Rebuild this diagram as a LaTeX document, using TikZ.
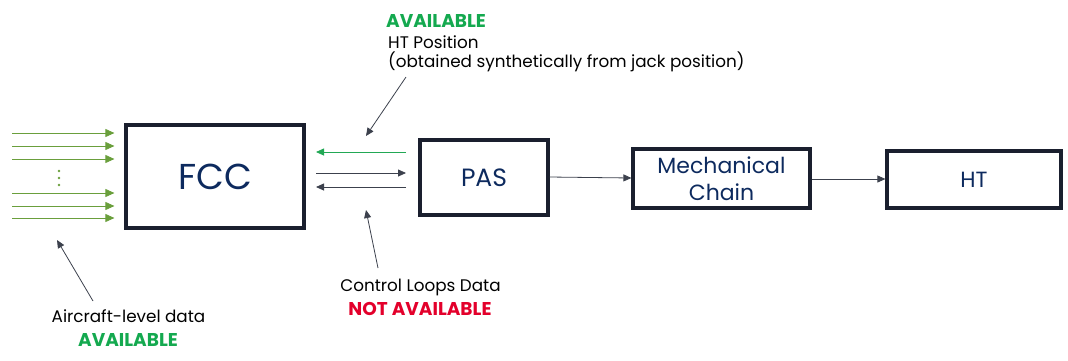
\documentclass[tikz,border=0pt]{standalone}
\usepackage{fontspec}
\setmainfont{Poppins}
\usetikzlibrary{arrows.meta}
\definecolor{navy}{HTML}{0D2A5E}
\definecolor{boxline}{HTML}{1A1F2E}
\definecolor{olivegreen}{HTML}{6A9F3C}
\definecolor{okgreen}{HTML}{14A94F}
\definecolor{arrgreen}{HTML}{22A855}
\definecolor{notred}{HTML}{E3002B}
\tikzset{
  blk/.style={draw=boxline, line width=3.2pt, text=navy, inner sep=0pt, align=center},
  conn/.style={line width=0.8pt, draw=boxline!85, -{Triangle[length=8pt,width=7pt]}},
  inarr/.style={line width=0.8pt, draw=olivegreen, -{Triangle[length=9pt,width=8pt]}, fill=olivegreen},
  note/.style={font=\fontsize{16.8}{20}\selectfont, text=black, inner sep=0pt},
  lbl/.style={font=\fontsize{18.5}{20}\selectfont\bfseries, inner sep=0pt},
}
\begin{document}
\begin{tikzpicture}[x=1pt,y=-1pt]
\useasboundingbox (0,0) rectangle (1068,360);
% boxes
\node[blk, minimum width=178pt, minimum height=103pt, font=\fontsize{36}{40}\selectfont] (fcc) at (215,176.5) {FCC};
\node[blk, minimum width=128pt, minimum height=75pt, font=\fontsize{25}{28}\selectfont] (pas) at (484,177.5) {PAS};
\node[blk, minimum width=177pt, minimum height=59pt, font=\fontsize{22}{27}\selectfont] (mech) at (721.5,178.5) {Mechanical\\Chain};
\node[blk, minimum width=174pt, minimum height=57pt, font=\fontsize{22}{27}\selectfont] (ht) at (974,179.5) {HT};
% input arrows
\foreach \yy [count=\i] in {133,146,159,193,206,218}{
  \coordinate (s\i) at (12,\yy);
  \coordinate (e\i) at (fcc.west |- 0,\yy);
  \draw[inarr] (s\i) -- ([xshift=-10pt]e\i);
}
\foreach \yy in {171,178,185}{ \fill[olivegreen] (59,\yy) circle (1.3pt); }
% FCC <-> PAS arrows
\coordinate (pa) at (406,152); \coordinate (fa) at (316,152);
\draw[line width=0.8pt, draw=arrgreen, -{Triangle[length=8pt,width=7pt]}] (pa) -- (fa);
\coordinate (fb) at (316,173); \coordinate (pb) at (406,173);
\draw[conn] (fb) -- (pb);
\coordinate (pc) at (406,187); \coordinate (fc) at (316,187);
\draw[conn] (pc) -- (fc);
% chain arrows
\draw[conn] (pas.east |- 0,177) -- (mech.west |- 0,178);
\draw[conn] (mech.east |- 0,179) -- (ht.west |- 0,179);
% annotations
\node[lbl, text=okgreen, anchor=west] (avtop) at (386,21) {AVAILABLE};
\node[note, anchor=west] (htpos) at (388,42) {HT Position};
\node[note, anchor=west] (obt) at (388,62) {(obtained synthetically from jack position)};
\coordinate (t1) at (406,77); \coordinate (t2) at (366,136);
\draw[conn] (t1) -- (t2);
\node[note] (cld) at (420.5,287) {Control Loops Data};
\node[lbl, text=notred] (notav) at (420,309) {NOT AVAILABLE};
\coordinate (b1) at (378,268); \coordinate (b2) at (366,210);
\draw[conn] (b1) -- (b2);
\node[note] (acd) at (128.5,316) {Aircraft-level data};
\node[lbl, text=okgreen] (avbot) at (128,340) {AVAILABLE};
\coordinate (a1) at (93,301); \coordinate (a2) at (57,240);
\draw[conn] (a1) -- (a2);
\end{tikzpicture}
\end{document}
